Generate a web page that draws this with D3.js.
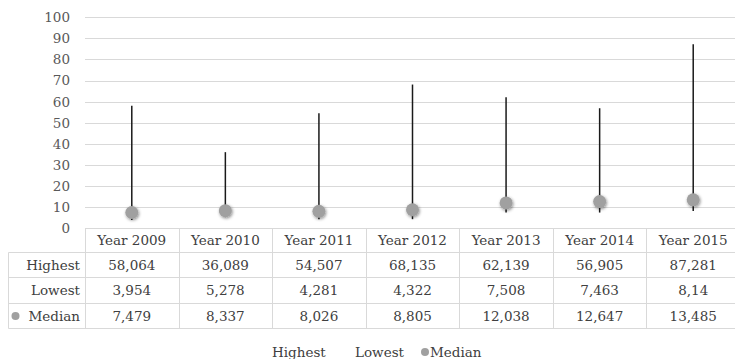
<!DOCTYPE html>
<html>
<head>
<meta charset="utf-8">
<script src="https://cdn.jsdelivr.net/npm/d3@7"></script>
<style>
  html, body { margin: 0; padding: 0; background: #fff; }
  svg { display: block; font-family: "DejaVu Serif", serif; }
</style>
</head>
<body>
<svg id="chart" width="735" height="359"></svg>
<script>
const categories = ["Year 2009", "Year 2010", "Year 2011", "Year 2012", "Year 2013", "Year 2014", "Year 2015"];
const highest = [58.064, 36.089, 54.507, 68.135, 62.139, 56.905, 87.281];
const lowest  = [3.954, 5.278, 4.281, 4.322, 7.508, 7.463, 8.14];
const median  = [7.479, 8.337, 8.026, 8.805, 12.038, 12.647, 13.485];
const yTicks  = [0, 10, 20, 30, 40, 50, 60, 70, 80, 90, 100];
const seriesNames = ["Highest", "Lowest", "Median"];

const svg = d3.select("#chart");
const fontSize = 13.5;
const gridColor = "#d9d9d9";
const textColor = "#404040";
const tickColor = "#595959";
const markerColor = "#a0a0a0";

const x = d3.scaleBand().domain(categories).range([85, 740]).padding(0);
const y = d3.scaleLinear().domain([0, 100]).range([228.3, 17.3]);

// shadow filter for markers
const defs = svg.append("defs");
const f = defs.append("filter").attr("id", "shadow").attr("x", "-50%").attr("y", "-50%").attr("width", "200%").attr("height", "200%");
f.append("feDropShadow").attr("dx", 0.8).attr("dy", 1.2).attr("stdDeviation", 1.4).attr("flood-color", "#000").attr("flood-opacity", 0.45);

// gridlines
svg.append("g").selectAll("line").data(yTicks.filter(d => d > 0)).join("line")
  .attr("x1", 85).attr("x2", 740)
  .attr("y1", d => Math.round(y(d)) + 0.5).attr("y2", d => Math.round(y(d)) + 0.5)
  .attr("stroke", gridColor).attr("stroke-width", 1);

// y axis labels
const yAxis = d3.axisLeft(y).tickValues(yTicks).tickSize(0).tickPadding(0);
const yg = svg.append("g").attr("transform", "translate(70,0)").call(yAxis);
yg.select(".domain").remove();
yg.selectAll("text").attr("fill", tickColor).attr("font-size", fontSize).attr("font-family", "DejaVu Serif");

// table
const rowTops = [228.5, 252.5, 277.5, 303.5, 328.5];
const tableLeft = 8.5;
const tg = svg.append("g");
// horizontal lines
rowTops.forEach((ry, i) => {
  tg.append("line")
    .attr("x1", i === 0 ? 85 : tableLeft).attr("x2", 740)
    .attr("y1", ry).attr("y2", ry)
    .attr("stroke", gridColor).attr("stroke-width", 1);
});
// vertical lines
const colEdges = categories.map(c => x(c)).concat([x.range()[1]]);
colEdges.forEach(cx => {
  tg.append("line")
    .attr("x1", Math.round(cx) + 0.5).attr("x2", Math.round(cx) + 0.5)
    .attr("y1", rowTops[0]).attr("y2", rowTops[4])
    .attr("stroke", gridColor).attr("stroke-width", 1);
});
tg.append("line").attr("x1", tableLeft).attr("x2", tableLeft)
  .attr("y1", rowTops[1]).attr("y2", rowTops[4])
  .attr("stroke", gridColor).attr("stroke-width", 1);

// header labels
tg.selectAll("text.cat").data(categories).join("text")
  .attr("class", "cat")
  .attr("x", d => x(d) + x.bandwidth() / 2)
  .attr("y", (rowTops[0] + rowTops[1]) / 2)
  .attr("dy", "0.36em")
  .attr("text-anchor", "middle")
  .attr("font-size", fontSize).attr("fill", textColor)
  .text(d => d);

const fmt = v => String(v).replace(".", ",");
const rows = [highest, lowest, median];
rows.forEach((vals, r) => {
  const cy = (rowTops[r + 1] + rowTops[r + 2]) / 2;
  tg.append("text")
    .attr("x", 80).attr("y", cy).attr("dy", "0.36em")
    .attr("text-anchor", "end")
    .attr("font-size", fontSize).attr("fill", textColor)
    .text(seriesNames[r]);
  tg.selectAll("text.v" + r).data(vals).join("text")
    .attr("class", "v" + r)
    .attr("x", (d, i) => x(categories[i]) + x.bandwidth() / 2)
    .attr("y", cy).attr("dy", "0.36em")
    .attr("text-anchor", "middle")
    .attr("font-size", fontSize).attr("fill", textColor)
    .text(d => fmt(d));
});
// median key in table
tg.append("circle").attr("cx", 15.5).attr("cy", (rowTops[3] + rowTops[4]) / 2).attr("r", 4).attr("fill", markerColor);

// high-low lines
svg.append("g").selectAll("line").data(categories).join("line")
  .attr("x1", d => x(d) + x.bandwidth() / 2).attr("x2", d => x(d) + x.bandwidth() / 2)
  .attr("y1", (d, i) => y(lowest[i])).attr("y2", (d, i) => y(highest[i]))
  .attr("stroke", "#1a1a1a").attr("stroke-width", 1.5);

// median markers
svg.append("g").selectAll("circle").data(categories).join("circle")
  .attr("cx", d => x(d) + x.bandwidth() / 2)
  .attr("cy", (d, i) => y(median[i]))
  .attr("r", 6.5)
  .attr("fill", markerColor)
  .attr("filter", "url(#shadow)");

// legend
const lg = svg.append("g").attr("font-size", fontSize).attr("fill", textColor);
const legendY = 352;
lg.append("text").attr("x", 272).attr("y", legendY).attr("dy", "0.36em").text(seriesNames[0]);
lg.append("text").attr("x", 355).attr("y", legendY).attr("dy", "0.36em").text(seriesNames[1]);
lg.append("circle").attr("cx", 425).attr("cy", legendY).attr("r", 4).attr("fill", markerColor);
lg.append("text").attr("x", 430).attr("y", legendY).attr("dy", "0.36em").text(seriesNames[2]);
</script>
</body>
</html>
